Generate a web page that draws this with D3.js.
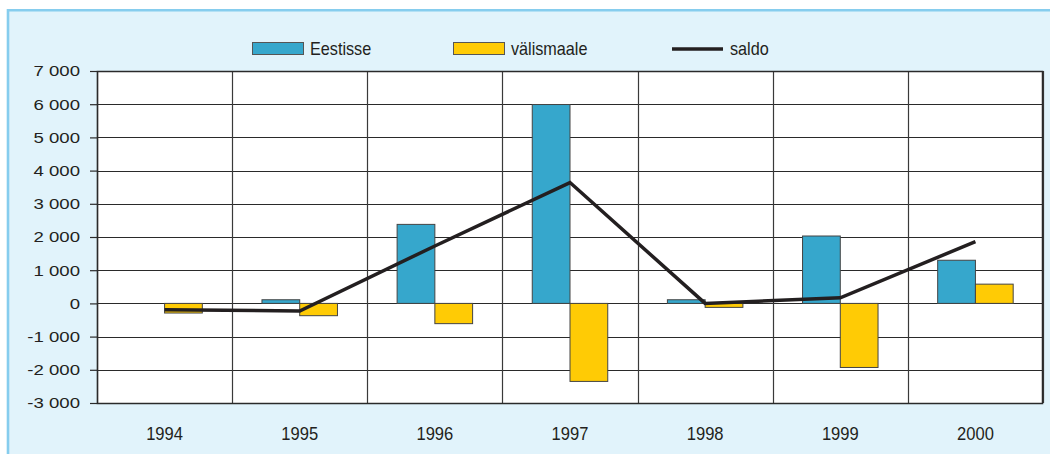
<!DOCTYPE html>
<html><head><meta charset="utf-8">
<script src="https://cdn.jsdelivr.net/npm/d3@7"></script>
<style>
html,body{margin:0;padding:0;background:#fff;}
svg{display:block;}
</style></head>
<body>
<script>
const years = ["1994","1995","1996","1997","1998","1999","2000"];
const eestisse = [0, 110, 2380, 5990, 110, 2030, 1300];
const valismaale = [-290, -370, -610, -2350, -120, -1930, 580];
const saldo = [-190, -230, 1730, 3640, 0, 170, 1860];
const yTicks = [-3000,-2000,-1000,0,1000,2000,3000,4000,5000,6000,7000];
const seriesNames = ["Eestisse","välismaale","saldo"];

const W = 1050, H = 454;
const m = {left: 97, right: 7, top: 71, bottom: 51};
const svg = d3.select("body").append("svg").attr("width", W).attr("height", H);
const FONT = "Liberation Sans, Arial, Helvetica, sans-serif";

// background panel
svg.append("rect").attr("x",0).attr("y",0).attr("width",W).attr("height",H).attr("fill","#fff");
svg.append("rect").attr("x",7).attr("y",9).attr("width",W-7).attr("height",H-9).attr("fill","#E1F3FB");
svg.append("line").attr("x1",7).attr("x2",W).attr("y1",10.3).attr("y2",10.3).attr("stroke","#86CDEE").attr("stroke-width",2.6);
svg.append("line").attr("x1",8).attr("x2",8).attr("y1",9).attr("y2",H).attr("stroke","#86CDEE").attr("stroke-width",2.6);

const x = d3.scaleBand().domain(years).range([m.left, W - m.right]).paddingInner(0).paddingOuter(0);
const y = d3.scaleLinear().domain([-3000, 7000]).range([H - m.bottom, m.top]);
const xs = d3.scaleBand().domain(["e","v"]).range([0, x.bandwidth()]).paddingInner(0).paddingOuter(0.79);

const plot = svg.append("g");
plot.append("rect").attr("x", m.left).attr("y", m.top).attr("width", W - m.left - m.right).attr("height", H - m.top - m.bottom).attr("fill", "#fff");

// horizontal grid
plot.selectAll("line.hg").data(yTicks).join("line")
  .attr("x1", m.left).attr("x2", W - m.right)
  .attr("y1", d => Math.round(y(d)) + 0.5).attr("y2", d => Math.round(y(d)) + 0.5)
  .attr("stroke", "#2a2a2a").attr("stroke-width", 1.2);
// vertical grid
const vx = years.map(d => x(d)).concat([W - m.right]);
plot.selectAll("line.vg").data(vx).join("line")
  .attr("x1", d => Math.round(d) + 0.5).attr("x2", d => Math.round(d) + 0.5)
  .attr("y1", m.top).attr("y2", H - m.bottom)
  .attr("stroke", "#3a3a3a").attr("stroke-width", 1.2);

// bars
const bars = plot.append("g");
bars.selectAll("rect.e").data(years).join("rect")
  .attr("x", d => x(d) + xs("e"))
  .attr("width", xs.bandwidth())
  .attr("y", (d,i) => y(Math.max(0, eestisse[i])))
  .attr("height", (d,i) => Math.abs(y(eestisse[i]) - y(0)))
  .attr("fill", "#36A7CC").attr("stroke", "#444").attr("stroke-width", 1)
  .attr("display", (d,i) => eestisse[i] === 0 ? "none" : null);
bars.selectAll("rect.v").data(years).join("rect")
  .attr("x", d => x(d) + xs("v"))
  .attr("width", xs.bandwidth())
  .attr("y", (d,i) => y(Math.max(0, valismaale[i])))
  .attr("height", (d,i) => Math.abs(y(valismaale[i]) - y(0)))
  .attr("fill", "#FFCB05").attr("stroke", "#444").attr("stroke-width", 1);

// saldo line
const line = d3.line().x((d,i) => x(years[i]) + x.bandwidth()/2).y(d => y(d));
plot.append("path").datum(saldo).attr("d", line)
  .attr("fill", "none").attr("stroke", "#231F20").attr("stroke-width", 3.5).attr("stroke-linejoin","miter");

// plot border
plot.append("rect").attr("x", m.left + 0.5).attr("y", m.top + 0.5)
  .attr("width", W - m.left - m.right - 1).attr("height", H - m.top - m.bottom)
  .attr("fill", "none").attr("stroke", "#2a2a2a").attr("stroke-width", 1.5);

// y axis
const fmt = d => d3.format(",")(d).replace(/,/g, " ").replace("\u2212", "-");
const yAxis = svg.append("g").attr("transform", `translate(${m.left},0)`)
  .call(d3.axisLeft(y).tickValues(yTicks).tickSize(7).tickPadding(10).tickFormat(fmt));
yAxis.select(".domain").remove();
yAxis.selectAll("line").attr("stroke", "#2a2a2a").attr("stroke-width", 1.2);
yAxis.selectAll("text").attr("font-family", FONT).attr("font-size", 15.5).attr("fill", "#231F20")
  .attr("transform", "translate(-17,0) scale(1.2,1) translate(17,0)");

// x axis labels
const xAxis = svg.append("g").attr("transform", `translate(0,${H - m.bottom})`)
  .call(d3.axisBottom(x).tickSize(0));
xAxis.select(".domain").remove();
xAxis.selectAll("text").attr("font-family", FONT).attr("font-size", 18).attr("fill", "#231F20")
  .attr("y", 37).attr("dy", 0).attr("x", 0)
  .attr("transform", "scale(0.92,1)");

// legend
const lg = svg.append("g").attr("font-family", FONT).attr("font-size", 18).attr("fill", "#231F20");
const lx = [252, 453, 672];
lg.append("rect").attr("x", lx[0] + 0.5).attr("y", 42.5).attr("width", 51).attr("height", 12).attr("fill", "#36A7CC").attr("stroke", "#555");
lg.append("rect").attr("x", lx[1] + 0.5).attr("y", 42.5).attr("width", 51).attr("height", 12).attr("fill", "#FFCB05").attr("stroke", "#555");
lg.append("line").attr("x1", lx[2]).attr("x2", lx[2] + 51).attr("y1", 49).attr("y2", 49).attr("stroke", "#231F20").attr("stroke-width", 3.5);
seriesNames.forEach((n, i) => {
  const tx = lx[i] + 58;
  lg.append("text").attr("x", tx).attr("y", 55)
    .attr("transform", `translate(${tx},0) scale(0.9,1) translate(${-tx},0)`).text(n);
});
</script>
</body></html>
